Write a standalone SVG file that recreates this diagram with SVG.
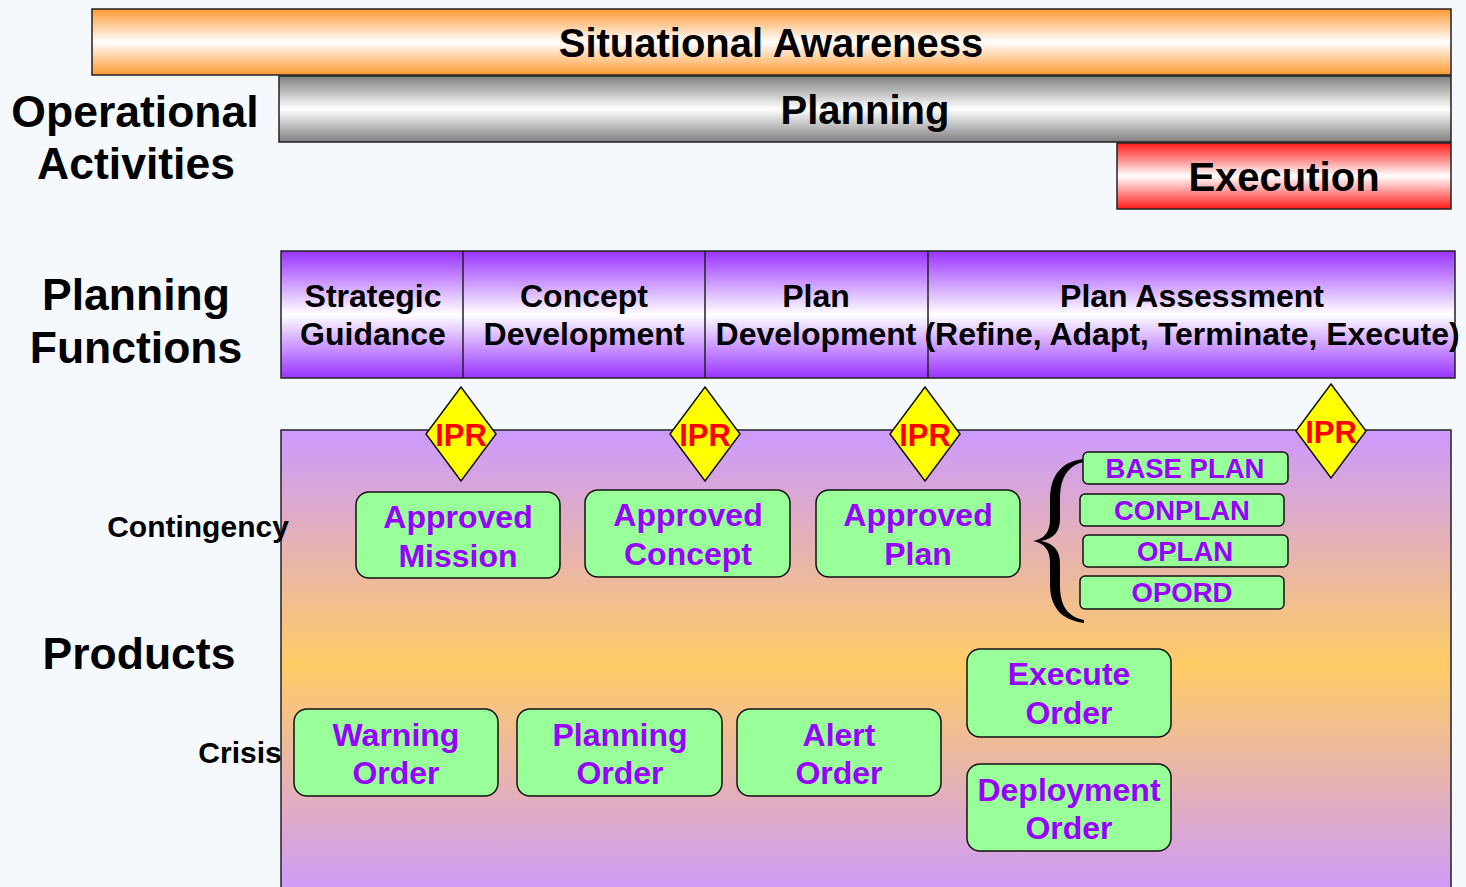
<svg xmlns="http://www.w3.org/2000/svg" width="1466" height="887" viewBox="0 0 1466 887">
<defs>
<linearGradient id="gOrange" x1="0" y1="0" x2="0" y2="1"><stop offset="0" stop-color="#ff9933"/><stop offset="0.5" stop-color="#ffffff"/><stop offset="1" stop-color="#ff9933"/></linearGradient>
<linearGradient id="gGray" x1="0" y1="0" x2="0" y2="1"><stop offset="0" stop-color="#808080"/><stop offset="0.5" stop-color="#ffffff"/><stop offset="1" stop-color="#808080"/></linearGradient>
<linearGradient id="gRed" x1="0" y1="0" x2="0" y2="1"><stop offset="0" stop-color="#ff1a1a"/><stop offset="0.5" stop-color="#ffffff"/><stop offset="1" stop-color="#ff1a1a"/></linearGradient>
<linearGradient id="gPurple" x1="0" y1="0" x2="0" y2="1"><stop offset="0" stop-color="#9933ff"/><stop offset="0.5" stop-color="#ffffff"/><stop offset="1" stop-color="#9933ff"/></linearGradient>
<linearGradient id="gProducts" x1="0" y1="0" x2="0" y2="1"><stop offset="0" stop-color="#cc99ff"/><stop offset="0.5" stop-color="#ffcc66"/><stop offset="1" stop-color="#cc99ff"/></linearGradient>
<style>
text{font-family:"Liberation Sans",Arial,sans-serif;font-weight:bold;text-anchor:middle;}
.bar{stroke:#222;stroke-width:1.5;}
.big{font-size:40px;fill:#000;}
.side{font-size:44.5px;fill:#000;}
.fn{font-size:32px;fill:#000;}
.lbl{font-size:30px;fill:#000;}
.prod{fill:#99ff99;stroke:#111;stroke-width:1.5;}
.pt{font-size:32px;fill:#9900ff;}
.st{font-size:27.5px;fill:#9900ff;}
.ipr{fill:#ffff00;stroke:#111;stroke-width:1.5;}
.iprt{font-size:31px;fill:#ff0000;}
</style>
</defs>
<rect x="0" y="0" width="1466" height="887" fill="#f5f9fd"/>

<g id="situational-awareness">
<rect class="bar" x="92" y="9" width="1359" height="66" fill="url(#gOrange)"/>
<text class="big" x="771" y="57">Situational Awareness</text>
</g>
<g id="planning">
<rect class="bar" x="279" y="76" width="1172" height="66" fill="url(#gGray)"/>
<text class="big" x="865" y="124">Planning</text>
</g>
<g id="execution">
<rect class="bar" x="1117" y="143" width="334" height="66" fill="url(#gRed)"/>
<text class="big" x="1284" y="191">Execution</text>
</g>

<g id="label-operational">
<text class="side" x="135" y="127">Operational</text>
<text class="side" x="136" y="179">Activities</text>
</g>
<g id="label-planning-functions">
<text class="side" x="136" y="310">Planning</text>
<text class="side" x="136" y="363">Functions</text>
</g>
<g id="label-products">
<text class="side" x="139" y="669">Products</text>
</g>

<g id="planning-functions">
<rect class="bar" x="281" y="251" width="1174" height="127" fill="url(#gPurple)"/>
<line x1="463" y1="251" x2="463" y2="378" stroke="#222" stroke-width="1.5"/>
<line x1="705" y1="251" x2="705" y2="378" stroke="#222" stroke-width="1.5"/>
<line x1="928" y1="251" x2="928" y2="378" stroke="#222" stroke-width="1.5"/>
</g>
<g id="fn-strategic-guidance">
<text class="fn" x="373" y="307">Strategic</text>
<text class="fn" x="373" y="345">Guidance</text>
</g>
<g id="fn-concept-development">
<text class="fn" x="584" y="307">Concept</text>
<text class="fn" x="584" y="345">Development</text>
</g>
<g id="fn-plan-development">
<text class="fn" x="816" y="307">Plan</text>
<text class="fn" x="816" y="345">Development</text>
</g>
<g id="fn-plan-assessment">
<text class="fn" x="1192" y="307">Plan Assessment</text>
<text class="fn" x="1192" y="345">(Refine, Adapt, Terminate, Execute)</text>
</g>

<g id="products-area">
<rect x="281" y="430" width="1170" height="470" fill="url(#gProducts)" stroke="#222" stroke-width="1.5"/>
</g>
<g id="label-contingency"><text class="lbl" x="198" y="537">Contingency</text></g>
<g id="label-crisis"><text class="lbl" x="240" y="763">Crisis</text></g>

<g id="ipr-1">
<polygon class="ipr" points="461,387 496,434 461,481 426,434"/>
<text class="iprt" x="461" y="446">IPR</text>
</g>
<g id="ipr-2">
<polygon class="ipr" points="705,387 740,434 705,481 670,434"/>
<text class="iprt" x="705" y="446">IPR</text>
</g>
<g id="ipr-3">
<polygon class="ipr" points="925,387 960,434 925,481 890,434"/>
<text class="iprt" x="925" y="446">IPR</text>
</g>
<g id="ipr-4">
<polygon class="ipr" points="1331,384 1366,431 1331,478 1296,431"/>
<text class="iprt" x="1331" y="443">IPR</text>
</g>

<g id="approved-mission">
<rect class="prod" x="356" y="492" width="204" height="86" rx="13"/>
<text class="pt" x="458" y="528">Approved</text>
<text class="pt" x="458" y="567">Mission</text>
</g>
<g id="approved-concept">
<rect class="prod" x="585" y="490" width="205" height="87" rx="13"/>
<text class="pt" x="688" y="526">Approved</text>
<text class="pt" x="688" y="565">Concept</text>
</g>
<g id="approved-plan">
<rect class="prod" x="816" y="490" width="204" height="87" rx="13"/>
<text class="pt" x="918" y="526">Approved</text>
<text class="pt" x="918" y="565">Plan</text>
</g>

<g id="connectors">
<path d="M1084,459 C1062,461 1050,475 1050,500 L1050,520 C1050,532 1044,539 1033,541 C1044,543 1050,550 1050,562 L1050,584 C1050,608 1062,620 1084,623 L1084,620 C1068,617 1060,606 1060,586 L1060,563 C1060,550 1053,543 1041,541 C1053,539 1060,532 1060,519 L1060,498 C1060,478 1068,465 1084,462 Z" fill="#000"/>
</g>

<g id="base-plan">
<rect class="prod" x="1083" y="452" width="205" height="32" rx="5"/>
<text class="st" x="1185" y="478">BASE PLAN</text>
</g>
<g id="conplan">
<rect class="prod" x="1080" y="494" width="204" height="32" rx="5"/>
<text class="st" x="1182" y="520">CONPLAN</text>
</g>
<g id="oplan">
<rect class="prod" x="1083" y="535" width="205" height="32" rx="5"/>
<text class="st" x="1185" y="561">OPLAN</text>
</g>
<g id="opord">
<rect class="prod" x="1080" y="576" width="204" height="33" rx="5"/>
<text class="st" x="1182" y="602">OPORD</text>
</g>

<g id="warning-order">
<rect class="prod" x="294" y="709" width="204" height="87" rx="13"/>
<text class="pt" x="396" y="746">Warning</text>
<text class="pt" x="396" y="784">Order</text>
</g>
<g id="planning-order">
<rect class="prod" x="517" y="709" width="205" height="87" rx="13"/>
<text class="pt" x="620" y="746">Planning</text>
<text class="pt" x="620" y="784">Order</text>
</g>
<g id="alert-order">
<rect class="prod" x="737" y="709" width="204" height="87" rx="13"/>
<text class="pt" x="839" y="746">Alert</text>
<text class="pt" x="839" y="784">Order</text>
</g>
<g id="execute-order">
<rect class="prod" x="967" y="649" width="204" height="88" rx="13"/>
<text class="pt" x="1069" y="685">Execute</text>
<text class="pt" x="1069" y="724">Order</text>
</g>
<g id="deployment-order">
<rect class="prod" x="967" y="764" width="204" height="87" rx="13"/>
<text class="pt" x="1069" y="801">Deployment</text>
<text class="pt" x="1069" y="839">Order</text>
</g>
</svg>
